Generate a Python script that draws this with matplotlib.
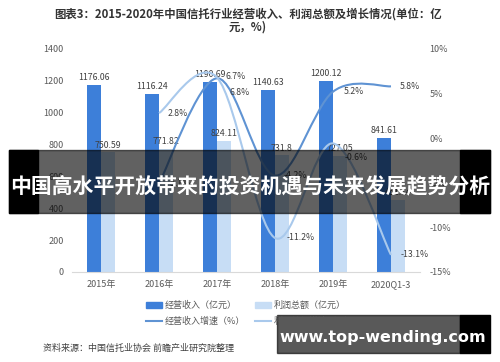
import numpy as np
import matplotlib
matplotlib.use('Agg')
import matplotlib.pyplot as plt
from matplotlib.path import Path
from matplotlib.patches import PathPatch, Patch, Rectangle
from matplotlib.lines import Line2D

plt.rcParams['font.family'] = ['Noto Sans CJK SC', 'DejaVu Sans']

years = ['2015年', '2016年', '2017年', '2018年', '2019年', '2020Q1-3']
revenue = [1176.06, 1116.24, 1190.69, 1140.63, 1200.12, 841.61]
profit = [750.59, 771.82, 824.11, 731.8, 727.05, 451.14]
rev_growth = [-5.1, 6.7, -4.2, 5.2, 5.8]      # 2016 .. 2020Q1-3
profit_growth = [2.8, 6.8, -11.2, -0.6, -13.1]

c_rev = '#3d7fd9'
c_pro = '#c7ddf5'
c_rev_line = '#5f93d3'
c_pro_line = '#a9c9ec'
txt = '#595959'

fig = plt.figure(figsize=(5, 3.62), dpi=100)
ax = fig.add_axes([0.144, 0.249, 0.696, 0.616])
ax2 = ax.twinx()

x = np.arange(len(years))
w = 0.24
b1 = ax.bar(x - w / 2, revenue, w, color=c_rev, zorder=2)
b2 = ax.bar(x + w / 2, profit, w, color=c_pro, zorder=2)
ax.bar_label(b1, labels=['%.2f' % v for v in revenue], padding=2, fontsize=6.3, color='#404040')
ax.bar_label(b2, labels=['%g' % v for v in profit], padding=2, fontsize=6.3, color='#404040')

ax.set_ylim(0, 1400)
ax.set_yticks(range(0, 1401, 200))
ax.set_xlim(-0.5, 5.5)
ax.set_xticks(x)
ax.set_xticklabels(years)
ax.tick_params(length=0, labelsize=6.5, colors=txt, pad=6)
for s in ['top', 'left', 'right']:
    ax.spines[s].set_visible(False)
    ax2.spines[s].set_visible(False)
ax.spines['bottom'].set_color('#d9d9d9')
ax2.spines['bottom'].set_visible(False)

ax2.set_ylim(-15, 10)
ax2.set_yticks(range(-15, 11, 5))
ax2.set_yticklabels(['%d%%' % t for t in range(-15, 11, 5)])
ax2.tick_params(length=0, labelsize=6.5, colors=txt, pad=7)


def smooth_path(xs, ys):
    # Excel-like smoothed line: cubic bezier through the points
    pts = np.column_stack([xs, ys]).astype(float)
    ext = np.vstack([pts[0], pts, pts[-1]])
    verts = [tuple(pts[0])]
    codes = [Path.MOVETO]
    for i in range(len(pts) - 1):
        p0, p1, p2, p3 = ext[i], ext[i + 1], ext[i + 2], ext[i + 3]
        verts += [tuple(p1 + (p2 - p0) / 6), tuple(p2 - (p3 - p1) / 6), tuple(p2)]
        codes += [Path.CURVE4] * 3
    return Path(verts, codes)


gx = x[1:]
ax2.add_patch(PathPatch(smooth_path(gx, rev_growth), fill=False, edgecolor=c_rev_line, lw=1.5, zorder=3))
ax2.add_patch(PathPatch(smooth_path(gx, profit_growth), fill=False, edgecolor=c_pro_line, lw=1.5, zorder=3))

rev_off = [(6, 0), (6, 1), (6, 0), (8, 0), (6, 0)]
pro_off = [(6, 0), (9, -11), (8, 0), (8, -10), (7, 0)]
for i, v in enumerate(rev_growth):
    ax2.annotate('%.1f%%' % v, (gx[i], v), xytext=rev_off[i], textcoords='offset points',
                 fontsize=6.3, color='#404040', va='center', ha='left')
for i, v in enumerate(profit_growth):
    ax2.annotate('%.1f%%' % v, (gx[i], v), xytext=pro_off[i], textcoords='offset points',
                 fontsize=6.3, color='#404040', va='center', ha='left')

fig.text(0.496, 0.962, '图表3：2015-2020年中国信托行业经营收入、利润总额及增长情况(单位：亿',
         ha='center', va='center', fontsize=8.2, fontweight='bold', color='#333333')
fig.text(0.496, 0.925, '元，%)', ha='center', va='center', fontsize=8.2, fontweight='bold', color='#333333')

handles = [Patch(color=c_rev), Line2D([], [], color=c_rev_line, lw=1.5),
           Patch(color=c_pro), Line2D([], [], color=c_pro_line, lw=1.5)]
names = ['经营收入（亿元）', '经营收入增速（%）', '利润总额（亿元）', '利润总额增速（%）']
fig.legend(handles, names, ncol=2, loc='center', bbox_to_anchor=(0.5, 0.134), frameon=False,
           fontsize=6.5, labelcolor=txt, handlelength=1.8, handleheight=0.6, handletextpad=0.3,
           columnspacing=1.0, labelspacing=0.7)

fig.text(0.086, 0.038, '资料来源：中国信托业协会 前瞻产业研究院整理', fontsize=6.5, color='#404040',
         va='center')

# overlay banner
fig.patches.append(Rectangle((0.018, 0.412), 0.962, 0.174, transform=fig.transFigure,
                             color='black', alpha=0.62, zorder=5))
fig.patches.append(Rectangle((0.018, 0.412), 0.058, 0.174, transform=fig.transFigure,
                             color='black', zorder=5))
fig.patches.append(Rectangle((0.92, 0.412), 0.06, 0.174, transform=fig.transFigure,
                             color='black', zorder=5))
fig.text(0.5, 0.487, '中国高水平开放带来的投资机遇与未来发展趋势分析', ha='center', va='center',
         fontsize=15, fontweight='bold', color='white', zorder=6)

# site watermark box
fig.patches.append(Rectangle((0.554, 0.025), 0.366, 0.105, transform=fig.transFigure,
                             color='black', alpha=0.65, zorder=5))
fig.patches.append(Rectangle((0.92, 0.025), 0.06, 0.105, transform=fig.transFigure,
                             color='black', zorder=5))
fig.text(0.766, 0.069, 'www.top-wending.com', ha='center', va='center', fontsize=11.5,
         fontweight='bold', color='white', family='DejaVu Sans', zorder=6)

fig.savefig('out.png', dpi=100)
